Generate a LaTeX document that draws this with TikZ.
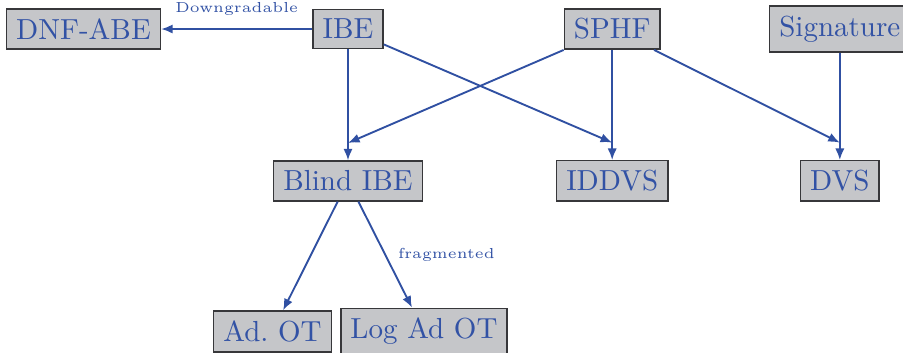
\documentclass[tikz,border=0pt]{standalone}
\usetikzlibrary{arrows.meta,calc}
\definecolor{boxfill}{RGB}{197,198,201}
\definecolor{boxline}{RGB}{55,55,58}
\definecolor{txtblue}{RGB}{50,82,165}
\definecolor{arrblue}{RGB}{48,80,162}
\begin{document}
\begin{tikzpicture}[x=1pt,y=1pt,
  box/.style={draw=boxline,fill=boxfill,line width=0.5pt,text=txtblue,inner sep=0.3333em},
  arr/.style={draw=arrblue,line width=0.65pt,-{Latex[length=4pt,width=3.2pt]}},
  lbl/.style={text=txtblue,font=\tiny}]
\useasboundingbox (0,0) rectangle (311.38,-121.72);
% top row
\node[box] (DNF) at (28.79,-10.0) {DNF-ABE};
\node[box] (IBE) at (120.0,-10.0) {IBE};
\node[box] (SPHF) at (211.1,-10.0) {SPHF};
\node[box] (SIG) at (289.6,-10.0) {Signature};
% middle row
\node[box] (BIBE) at (120.0,-62.4) {Blind IBE};
\node[box] (IDDVS) at (211.1,-62.4) {IDDVS};
\node[box] (DVS) at (289.6,-62.4) {DVS};
% bottom row
\node[box] (ADOT) at (93.97,-114.3) {Ad.\ OT};
\node[box] (LOG) at (146.2,-114.3) {Log Ad OT};
% entry points above targets
\coordinate (bibeIn) at ($(BIBE.north)+(0,6pt)$);
\coordinate (iddvsIn) at ($(IDDVS.north)+(0,6pt)$);
\coordinate (dvsIn) at ($(DVS.north)+(0,6pt)$);
% connectors
\draw[arr] (IBE) -- node[lbl,midway,above,inner sep=4.2pt] {Downgradable} (DNF);
\draw[arr] (IBE) -- (BIBE);
\draw[arr] (IBE) -- (iddvsIn);
\draw[arr] (SPHF) -- (bibeIn);
\draw[arr] (SPHF) -- (IDDVS);
\draw[arr] (SPHF) -- (dvsIn);
\draw[arr] (SIG) -- (DVS);
\draw[arr] (BIBE) -- (ADOT);
\draw[arr] (BIBE) -- node[lbl,midway,right,inner sep=4.1pt] {fragmented} (LOG);
\end{tikzpicture}
\end{document}
